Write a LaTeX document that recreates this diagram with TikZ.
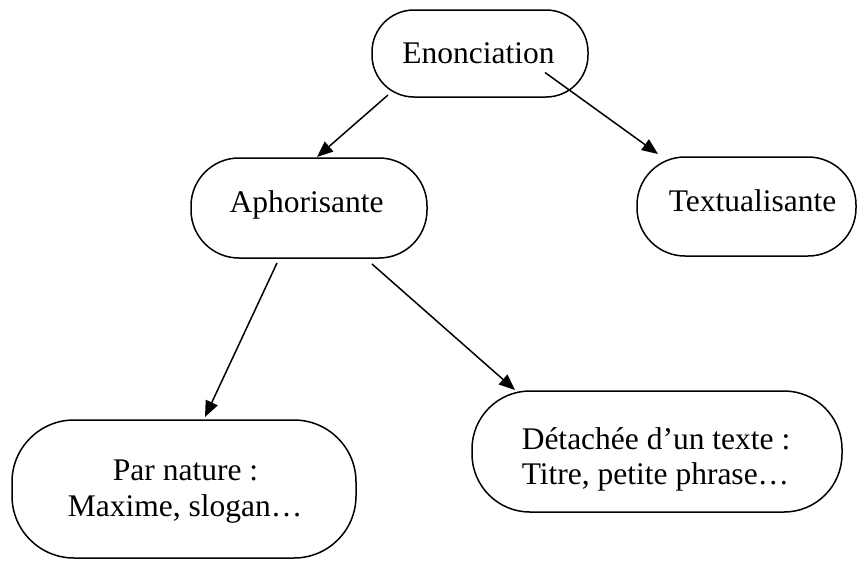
\documentclass[tikz,border=0pt]{standalone}
\usepackage{fontspec}
\setmainfont{Liberation Serif}
\usetikzlibrary{arrows.meta,calc}
\begin{document}
\begin{tikzpicture}[x=1pt,y=-1pt,
  box/.style={draw=black,line width=1.5pt,rounded corners=#1,inner sep=0pt,outer sep=0pt},
  lbl/.style={anchor=base,inner sep=0pt,font=\fontsize{31.5}{36}\selectfont},
  conn/.style={line width=1.5pt,-{Triangle[length=16pt,width=13pt]}}]
\useasboundingbox (0,0) rectangle (858,560);
% boxes
\node[box=42pt,minimum width=216pt,minimum height=87pt] (enon) at (480,53.5) {};
\node[box=48pt,minimum width=236pt,minimum height=100pt] (aph) at (309,208) {};
\node[box=48pt,minimum width=219pt,minimum height=99pt] (tex) at (746.5,206.5) {};
\node[box=62pt,minimum width=344pt,minimum height=138pt] (par) at (184,489) {};
\node[box=58pt,minimum width=370pt,minimum height=121pt] (det) at (657,451.5) {};
% texts
\node[lbl] (enonT) at (478.5,63) {Enonciation};
\node[lbl] (aphT) at (306.5,212) {Aphorisante};
\node[lbl] (texT) at (752.5,211) {Textualisante};
\node[lbl] (parT1) at (185.5,480) {Par nature :};
\node[lbl] (parT2) at (185,516) {Maxime, slogan…};
\node[lbl] (detT1) at (656,449) {Détachée d’un texte :};
\node[lbl] (detT2) at (655.5,484) {Titre, petite phrase…};
% connector ends
\coordinate (e1) at ($(enon.south west)+(16,-2)$);
\coordinate (e2) at ($(enon.center)+(65,19)$);
\coordinate (a1) at ($(aph.south west)+(86,5)$);
\coordinate (a2) at ($(aph.south west)+(181,6)$);
% connectors
\draw[conn] (e1) -- ($(aph.north)+(8,-1)$);
\draw[conn] (e2) -- ($(tex.north west)+(21,-3)$);
\draw[conn] (a1) -- ($(par.north west)+(193,-3)$);
\draw[conn] (a2) -- ($(det.north west)+(43,-1)$);
\end{tikzpicture}
\end{document}
